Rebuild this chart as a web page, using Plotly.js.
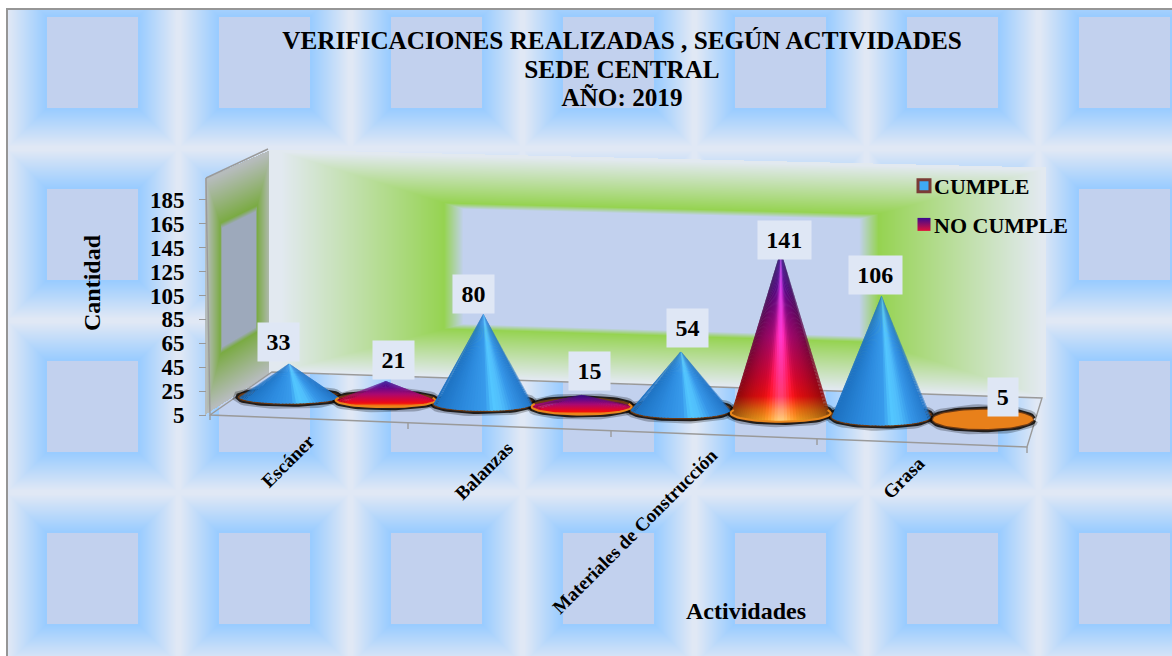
<!DOCTYPE html>
<html><head><meta charset="utf-8">
<script src="https://cdn.plot.ly/plotly-3.0.1.min.js"></script>
<style>html,body{margin:0;padding:0;background:#fff;overflow:hidden}#chart{width:1172px;height:656px}</style>
</head><body><div id="chart"></div>
<script>
// ---- data ----
const activities = ['Escáner','Balanzas','Materiales de Construcción','Grasa'];
const cumple   = [33, 80, 54, 106];
const noCumple = [21, 15, 141, 5];
const seriesNames = ['CUMPLE','NO CUMPLE'];
const yTicks = [5,25,45,65,85,105,125,145,165,185];
const titleLines = ['VERIFICACIONES REALIZADAS , SEGÚN ACTIVIDADES','SEDE CENTRAL','AÑO: 2019'];

// ---- geometry of the pseudo-3D plot ----
const W=1172,H=656,L=207,T=100,B=466;
const PXX=99.14,PXY=1.195;
const xOf=px=>(px-289)/PXX, yOf=py=>5+(415-py)/PXY;
const skew=i=>0.004*i*(i-7);
const xAt=i=>i+skew(i);
const floorAt=i=>yOf(397+3.2*i);
const radX=50/PXX;
const radY=i=>(6.5+0.45*i)/PXY;
const FONT='"Liberation Serif","Times New Roman",serif';

// ---- background texture ----
function mix(a,b,t){t=Math.max(0,Math.min(1,t));return [0,1,2].map(k=>a[k]+(b[k]-a[k])*t);}
function paintBackground(){
  const c=document.createElement('canvas');c.width=W;c.height=H;
  const g=c.getContext('2d');const im=g.createImageData(W,H);
  const pale=[194,209,238],blue=[154,204,255],light=[224,232,245];
  const tile=(x,y)=>{
    const dx=Math.abs(((x-92+8600)%172+172)%172);const ax=Math.min(dx,172-dx);
    const dy=Math.abs(((y-62+8600)%172+172)%172);const ay=Math.min(dy,172-dy);
    const d=Math.max(ax,ay);
    if(d<45.5)return pale;
    return mix(blue,light,(d-47)/(84-47));
  };
  const green=[149,211,80],wpale=[194,209,238],edge=[226,233,240];
  const wall=(u,v)=>{
    const d=Math.max(Math.abs(u-.505),Math.abs(v-.5))*2;
    if(d<.51)return wpale;
    if(d<.56)return mix(wpale,green,(d-.51)/.05);
    return mix(green,edge,Math.pow((d-.56)/.42,.95));
  };
  const lerp=(a,b,t)=>a+(b-a)*t;
  for(let y=0;y<H;y++)for(let x=0;x<W;x++){
    let col;
    if(y<8||x<6)col=[255,255,255];
    else if(y<10||x<8)col=[150,150,150];
    else{
      col=tile(x,y);
      if(x>=269&&x<=1045){
        const u=(x-269)/(1045-269),top=lerp(149,167,u),bot=lerp(372,398,u);
        if(y>=top&&y<=bot)col=wall(u,(y-top)/(bot-top));
      }
      if(x>=205&&x<269){
        const u=(x-205)/(271-205),top=lerp(178,149,u),bot=lerp(414,372,u);
        if(y>=top&&y<=bot){
          const w=wall(u,(y-top)/(bot-top));
          col=[w[0]*.78+6,w[1]*.78+6,w[2]*.76+6];
        }
      }
    }
    const p=(y*W+x)*4;im.data[p]=col[0];im.data[p+1]=col[1];im.data[p+2]=col[2];im.data[p+3]=255;
  }
  g.putImageData(im,0,0);
  g.strokeStyle='#9a9a9a';g.lineWidth=1.4;
  const seg=(pts)=>{g.beginPath();pts.forEach((p,i)=>i?g.lineTo(p[0],p[1]):g.moveTo(p[0],p[1]));g.stroke();};
  seg([[206,178],[210,415],[1027,447],[1042,398],[272,372],[210,415]]);
  seg([[206,178],[268,149]]);
  seg([[1027,447],[1027,453]]);seg([[408,423],[408,429]]);seg([[611,431],[611,437]]);seg([[817,439],[817,445]]);seg([[210,415],[210,420]]);
  return c.toDataURL('image/png');
}

// ---- cones ----
const blueStops=[[-1,[28,112,192]],[-.4,[44,138,222]],[.05,[56,155,236]],[.2,[84,200,255]],[.38,[80,190,252]],[.6,[54,150,232]],[1,[34,116,198]]];
function blueAt(p){
  for(let k=1;k<blueStops.length;k++)if(p<=blueStops[k][0]){
    const a=blueStops[k-1],b=blueStops[k];return mix(a[1],b[1],(p-a[0])/(b[0]-a[0]));
  }
  return blueStops[blueStops.length-1][1];
}
const warmStops=[[0,[50,8,140]],[.22,[92,8,140]],[.5,[170,8,112]],[.74,[220,6,48]],[.85,[240,14,16]],[.93,[240,110,16]],[1,[244,165,30]]];
function warmShade(c,p,tall){
  const dark=1-.42*p*p*tall, lift=tall*.5*Math.exp(-Math.pow(p/.2,2));
  return [Math.min(255,c[0]*dark+255*lift),Math.min(255,c[1]*dark+95*lift),Math.min(255,c[2]*dark+190*lift)];
}
const css=c=>`rgb(${Math.round(c[0])},${Math.round(c[1])},${Math.round(c[2])})`;
const traces=[];
function base(i,from,to,n){
  const xs=[],ys=[];
  for(let k=0;k<=n;k++){const t=from+(to-from)*k/n;xs.push(xAt(i)+radX*Math.cos(t));ys.push(floorAt(i)+radY(i)*Math.sin(t));}
  return {x:xs,y:ys};
}
const skip={hoverinfo:'skip',showlegend:false};
function ring(i){
  const e=base(i,0,2*Math.PI,64);
  traces.push({x:e.x,y:e.y,mode:'lines',line:{color:'rgba(0,0,0,.25)',width:11},...skip});
  traces.push({x:e.x,y:e.y,mode:'lines',line:{color:'rgba(12,6,0,.85)',width:6.5},...skip});
  traces.push({x:e.x,y:e.y,mode:'lines',line:{color:'#6e3a14',width:2.5},...skip});
}
function cone(i,v,warm){
  const h=v-5,b=radY(i);
  if(h<=0){
    const e=base(i,0,2*Math.PI,64);
    traces.push({x:e.x,y:e.y,mode:'lines',line:{width:0,color:'#E8801A'},fill:'toself',fillcolor:'#E8801A',...skip});
    return;
  }
  const th=h>b?Math.asin(b/h):Math.PI/2;
  const from=th,to=-Math.PI-th,N=50;
  const ax=xAt(i),ay=floorAt(i)+h,bottom=floorAt(i)-b;
  const tall=h>50?1:0;
  for(let k=0;k<N;k++){
    const t0=from+(to-from)*k/N,t1=from+(to-from)*Math.min(N,k+1.6)/N;
    const e=base(i,t0,t1,3);
    const tm=(from+(to-from)*(k+.5)/N),p=Math.cos(tm);
    const tr={x:[ax,...e.x,ax],y:[ay,...e.y,ay],mode:'lines',line:{width:0,color:'rgba(0,0,0,0)'},fill:'toself',...skip};
    if(warm){
      tr.fillcolor=css(warmShade(warmStops[3][1],p,tall));
      tr.fillgradient={type:'vertical',start:ay,stop:bottom,colorscale:warmStops.map(s=>[s[0],css(warmShade(s[1],p,tall))])};
    }else tr.fillcolor=css(blueAt(p));
    traces.push(tr);
  }
  if(warm){
    const e=base(i,0.35,-Math.PI-0.35,40);
    traces.push({x:e.x,y:e.y,mode:'lines',line:{color:'#E8861C',width:2},...skip});
  }
}
const order=[];
activities.forEach((a,k)=>{order.push([cumple[k],false]);order.push([noCumple[k],true]);});
order.forEach((o,i)=>ring(i));
order.forEach((o,i)=>cone(i,o[0],o[1]));

// legend entries
traces.push({x:[null],y:[null],mode:'markers',name:seriesNames[0],legendgroup:'a',hoverinfo:'skip',
  marker:{symbol:'square',size:12,color:'#3FA9F5',line:{color:'#7A3B36',width:3}}});
traces.push({x:[null],y:[null],mode:'markers',name:seriesNames[1],legendgroup:'b',hoverinfo:'skip',
  marker:{symbol:'square',size:13,color:'#3A0A90',gradient:{type:'vertical',color:'#E0103A'},line:{width:0}}});
// carries the x axis title, centred under the floor's visible part
traces.push({x:[null],y:[null],xaxis:'x2',yaxis:'y',mode:'markers',hoverinfo:'skip',showlegend:false});

// ---- value labels ----
const labelShift=[[-11,2],[8,1],[-10,0],[8,4],[7,3],[4,-10],[-6,1],[20,2]];
const annotations=order.map((o,i)=>{
  const s=String(o[0]);
  return {x:xAt(i),y:floorAt(i)+o[0]-5,text:'<b>'+s+'</b>',showarrow:false,xanchor:'center',yanchor:'bottom',
    xshift:labelShift[i][0],yshift:labelShift[i][1],bgcolor:'#DFE7F5',width:s.length*11.5+16,height:36,valign:'middle',align:'center',
    font:{family:FONT,size:24,color:'#000'}};
});
// ---- activity labels, following the slanted front edge ----
const labelEnd=[[322,427],[520,434],[724,442],[932,450]];
activities.forEach((a,k)=>{
  annotations.push({x:xOf(labelEnd[k][0]),y:yOf(labelEnd[k][1]),text:'<b>'+a+'</b>',showarrow:false,textangle:-45,
    xanchor:'right',yanchor:'top',font:{family:FONT,size:19,color:'#000'}});
});

const layout={
  width:W,height:H,margin:{l:L,r:0,t:T,b:H-B,pad:0},
  paper_bgcolor:'rgba(0,0,0,0)',plot_bgcolor:'rgba(0,0,0,0)',
  title:{text:'<b><span style="font-size:25.2px">'+titleLines.join('</span><br><span style="font-size:25.2px">')+'</span></b>',
    font:{family:FONT,size:22,color:'#000'},x:622/W,xanchor:'center',y:1-49/H,yanchor:'top'},
  font:{family:FONT},
  xaxis:{range:[xOf(L),xOf(W)],showgrid:false,zeroline:false,showline:false,ticks:'',showticklabels:false},
  xaxis2:{domain:[(320-L)/(W-L),1],anchor:'y',range:[0,1],showgrid:false,zeroline:false,showline:false,ticks:'',showticklabels:false,
    title:{text:'<b>Actividades</b>',font:{family:FONT,size:24,color:'#000'},standoff:136}},
  yaxis:{range:[yOf(B),yOf(T)],showgrid:false,zeroline:false,showline:false,
    tickmode:'array',tickvals:yTicks,ticktext:yTicks.map(String),ticks:'outside',ticklen:7,tickcolor:'#999',tickwidth:1,
    ticklabelstandoff:10,tickfont:{family:FONT,size:23,color:'#000',weight:'bold'},
    title:{text:'<b>Cantidad</b>',font:{family:FONT,size:24,color:'#000'},standoff:42}},
  showlegend:true,
  legend:{x:(894-L)/(W-L),xanchor:'left',y:1-(165-T)/(B-T),yanchor:'top',bgcolor:'rgba(0,0,0,0)',borderwidth:0,
    font:{family:FONT,size:22,color:'#000',weight:'bold'},tracegroupgap:7,itemclick:false,itemdoubleclick:false},
  annotations:annotations,
  images:[{source:paintBackground(),xref:'paper',yref:'paper',x:-L/(W-L),y:1+T/(B-T),sizex:W/(W-L),sizey:H/(B-T),
    xanchor:'left',yanchor:'top',sizing:'stretch',layer:'below'}]
};
Plotly.newPlot('chart',traces,layout,{displayModeBar:false,responsive:false}).then(()=>{
  document.querySelectorAll('.legendsymbols').forEach(el=>el.setAttribute('transform','translate(10,0)'));
});
</script></body></html>
